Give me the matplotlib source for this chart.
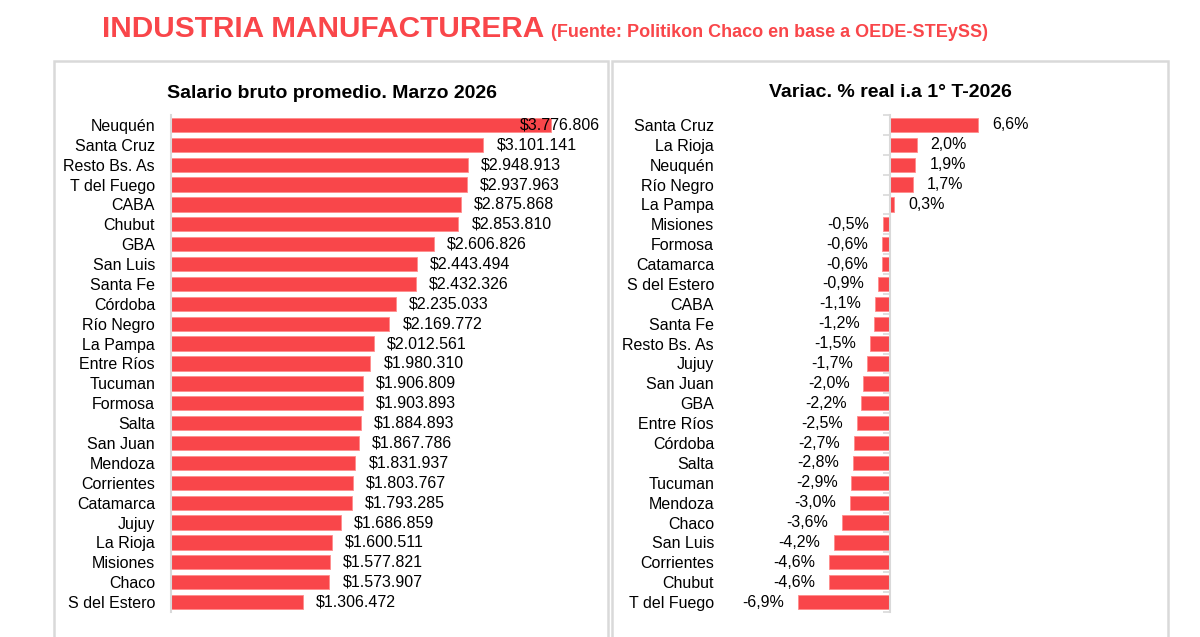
import matplotlib
matplotlib.use('agg')
import matplotlib.pyplot as plt
from matplotlib.patches import Rectangle

plt.rcParams['font.family'] = ['Liberation Sans', 'DejaVu Sans']

# salario bruto promedio, marzo 2026
prov_sal = ['Neuquén', 'Santa Cruz', 'Resto Bs. As', 'T del Fuego', 'CABA', 'Chubut',
            'GBA', 'San Luis', 'Santa Fe', 'Córdoba', 'Río Negro', 'La Pampa',
            'Entre Ríos', 'Tucuman', 'Formosa', 'Salta', 'San Juan', 'Mendoza',
            'Corrientes', 'Catamarca', 'Jujuy', 'La Rioja', 'Misiones', 'Chaco',
            'S del Estero']
salario = [3776806, 3101141, 2948913, 2937963, 2875868, 2853810, 2606826, 2443494,
           2432326, 2235033, 2169772, 2012561, 1980310, 1906809, 1903893, 1884893,
           1867786, 1831937, 1803767, 1793285, 1686859, 1600511, 1577821, 1573907,
           1306472]

# variacion % real interanual 1er trimestre 2026
prov_var = ['Santa Cruz', 'La Rioja', 'Neuquén', 'Río Negro', 'La Pampa', 'Misiones',
            'Formosa', 'Catamarca', 'S del Estero', 'CABA', 'Santa Fe', 'Resto Bs. As',
            'Jujuy', 'San Juan', 'GBA', 'Entre Ríos', 'Córdoba', 'Salta', 'Tucuman',
            'Mendoza', 'Chaco', 'San Luis', 'Corrientes', 'Chubut', 'T del Fuego']
variac = [6.6, 2.0, 1.9, 1.7, 0.3, -0.5, -0.6, -0.6, -0.9, -1.1, -1.2, -1.5, -1.7,
          -2.0, -2.2, -2.5, -2.7, -2.8, -2.9, -3.0, -3.6, -4.2, -4.6, -4.6, -6.9]

RED = '#F9464A'
GRAY = '#D9D9D9'
FS = 11.5
W, H = 1200, 637

fig = plt.figure(figsize=(12, 6.37), dpi=100)

def fx(px):
    return px / W

def fy(py):
    return 1 - py / H

# panel boxes
for x0, x1 in [(54, 608), (612, 1168)]:
    fig.patches.append(Rectangle((fx(x0), fy(650)), fx(x1 - x0), (650 - 61) / H,
                                 transform=fig.transFigure, fill=False,
                                 edgecolor=GRAY, lw=1.8))

fig.text(fx(102), fy(37), 'INDUSTRIA MANUFACTURERA', color=RED, fontsize=21.4,
         fontweight='bold', va='baseline')
fig.text(fx(551), fy(37), '(Fuente: Politikon Chaco en base a OEDE-STEySS)',
         color=RED, fontsize=13, fontweight='bold', va='baseline')

ax_top, ax_bot = 115, 612
ax_h = (ax_bot - ax_top) / H

# left chart
ax1 = fig.add_axes([fx(171), fy(ax_bot), fx(604 - 171), ax_h])
y1 = list(range(len(prov_sal)))
ax1.barh(y1, salario, height=0.72, color=RED, edgecolor='#FF8C8C', lw=0.6)
xmax1 = 4.3e6
ax1.set_xlim(0, xmax1)
ax1.set_ylim(len(prov_sal) - 0.5, -0.5)
ax1.set_yticks(y1)
ax1.set_yticklabels(prov_sal)
ax1.tick_params(axis='y', length=0, pad=11.5, labelsize=FS)
ax1.set_xticks([])
for s in ['top', 'right', 'bottom']:
    ax1.spines[s].set_visible(False)
ax1.spines['left'].set_color(GRAY)
ax1.spines['left'].set_linewidth(1.5)
for y, v in zip(y1, salario):
    txt = '$' + f'{v:,}'.replace(',', '.')
    if v > 0.85 * xmax1:
        ax1.annotate(txt, (xmax1, y), xytext=(-3, 0), textcoords='offset points',
                     ha='right', va='center', fontsize=FS)
    else:
        ax1.annotate(txt, (v, y), xytext=(9.5, 0), textcoords='offset points',
                     ha='left', va='center', fontsize=FS)
fig.text(fx(332), fy(98), 'Salario bruto promedio. Marzo 2026', ha='center',
         va='baseline', fontsize=14, fontweight='bold')

# right chart
ax2 = fig.add_axes([fx(730), fy(ax_bot), fx(427), ax_h])
y2 = list(range(len(prov_var)))
ax2.barh(y2, variac, height=0.72, color=RED, edgecolor='#FF8C8C', lw=0.6)
ax2.set_xlim(-12, 20)
ax2.set_ylim(len(prov_var) - 0.5, -0.5)
ax2.set_yticks(y2)
ax2.set_yticklabels(prov_var)
ax2.set_yticks([i - 0.5 for i in range(len(prov_var) + 1)], minor=True)
ax2.tick_params(axis='y', which='major', left=True, right=False, length=0, pad=11.5,
                labelsize=FS)
ax2.tick_params(axis='y', which='minor', left=False, right=True, direction='in',
                length=5, color=GRAY, width=1.2, labelright=False)
ax2.set_xticks([])
for s in ['top', 'left', 'bottom']:
    ax2.spines[s].set_visible(False)
ax2.spines['right'].set_position(('data', 0))
ax2.spines['right'].set_color(GRAY)
ax2.spines['right'].set_linewidth(1.5)
for y, v in zip(y2, variac):
    txt = f'{v:.1f}%'.replace('.', ',')
    if v >= 0:
        ax2.annotate(txt, (v, y), xytext=(10, 0), textcoords='offset points',
                     ha='left', va='center', fontsize=FS)
    else:
        ax2.annotate(txt, (v, y), xytext=(-10, 0), textcoords='offset points',
                     ha='right', va='center', fontsize=FS)
fig.text(fx(890), fy(97), 'Variac. % real i.a 1° T-2026', ha='center',
         va='baseline', fontsize=14, fontweight='bold')

plt.savefig('out.png', dpi=100)
plt.close()
